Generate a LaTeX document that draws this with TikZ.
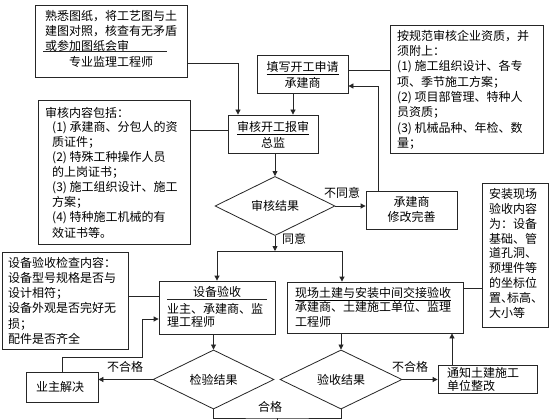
\documentclass[tikz,border=0pt]{standalone}
\usepackage{fontspec}
\setmainfont{Noto Sans CJK SC}
\newfontfamily\cjkhalt[RawFeature={+halt}]{Noto Sans CJK SC}
\usetikzlibrary{arrows.meta,shapes.geometric,calc}
\begin{document}
\begin{tikzpicture}[x=1pt,y=-1pt,
  frame/.style={draw=black!85,line width=0.8pt,rectangle,inner sep=0pt},
  dia/.style={draw=black!85,line width=0.8pt,diamond,inner sep=0pt,font=\fontsize{12}{14}\selectfont},
  txt/.style={inner sep=0pt,align=left,font=\fontsize{12}{15.2}\selectfont},
  lbl/.style={inner sep=0pt,font=\fontsize{12}{14}\selectfont},
  conn/.style={draw=black!85,line width=0.8pt},
  arr/.style={conn,-{Triangle[length=5pt,width=5pt]}}]
\fill[white] (0,0) rectangle (560,420);
\useasboundingbox (0,0) rectangle (560,420);

% boxes
\node[frame,minimum width=152pt,minimum height=72pt] (A) at (111,41) {};
\node[frame,minimum width=91pt,minimum height=38pt] (B) at (302.5,74) {};
\node[frame,minimum width=90pt,minimum height=38pt] (C) at (273,134) {};
\node[frame,minimum width=153pt,minimum height=128pt] (D) at (466.5,89) {};
\node[frame,minimum width=152pt,minimum height=144pt] (E) at (114,172) {};
\node[dia,minimum width=120pt,minimum height=45pt] (F) at (275,206) {审核结果};
\node[frame,minimum width=91pt,minimum height=38pt] (R) at (411.5,210) {};
\node[frame,minimum width=66pt,minimum height=144pt] (I) at (515,255) {};
\node[frame,minimum width=126pt,minimum height=97pt] (G) at (65,300.5) {};
\node[frame,minimum width=116pt,minimum height=53pt] (H) at (217,307.5) {};
\node[frame,minimum width=176pt,minimum height=51pt] (J) at (375,307.5) {};
\node[frame,minimum width=72pt,minimum height=30pt] (K) at (62,387) {};
\node[dia,minimum width=121pt,minimum height=45pt] (L) at (213.5,379.5) {检验结果};
\node[dia,minimum width=122pt,minimum height=45pt] (M) at (341,379.5) {验收结果};
\node[frame,minimum width=99pt,minimum height=28pt] (N) at (487.5,379) {};

% texts
\node[txt,anchor=north west] (Atx) at (45,10) {熟悉图纸，将工艺图与土\\建图对照，核查有无矛盾\\或参加图纸会审};
\draw[conn,line width=0.6pt] (43,51) -- (167,51);
\node[lbl] (Atx2) at (111,62) {专业监理工程师};
\node[lbl] (Btx1) at (302.5,68) {\underline{填写开工申请}};
\node[lbl] (Btx2) at (302.5,83) {承建商};
\node[lbl] (Ctx1) at (273,128) {\underline{审核开工报审}};
\node[lbl] (Ctx2) at (273,143) {总监};
\node[txt,anchor=north west,font=\fontsize{12}{15.3}\selectfont] (Dtx) at (397,30) {按规范审核企业资质，并\\须附上：\\(1) 施工组织设计、各专\\项、季节施工方案；\\(2) 项目部管理、特种人\\员资质；\\(3) 机械品种、年检、数\\量；};
\node[txt,anchor=north west] (Etx1) at (45,107) {审核内容包括：};
\node[txt,anchor=north west,font=\fontsize{12}{15.1}\selectfont] (Etx2) at (52,121) {(1) 承建商、分包人的资\\质证件；\\(2) 特殊工种操作人员\\的上岗证书；\\(3) 施工组织设计、施工\\方案；\\(4) 特种施工机械的有\\效证书等。};
\node[lbl] (Rtx1) at (411.5,202) {承建商};
\node[lbl] (Rtx2) at (411.5,217) {修改完善};
\node[txt,anchor=north west,font=\fontsize{12}{14.9}\selectfont] (Itx) at (489,188) {安装现场\\验收内容\\为：设备\\基础、管\\道孔洞、\\预埋件等\\的坐标位\\{\cjkhalt 置、标高、}\\大小等};
\node[txt,anchor=north west] (Gtx) at (8,257) {设备验收检查内容：\\设备型号规格是否与\\设计相符；\\设备外观是否完好无\\损；\\配件是否齐全};
\node[lbl] (Htx1) at (217,292) {设备验收};
\draw[conn,line width=0.6pt] (167,299) -- (267,299);
\node[txt,anchor=north west,font=\fontsize{12}{13}\selectfont] (Htx2) at (167,303) {业主、承建商、监\\理工程师};
\node[txt,anchor=north west,font=\fontsize{12}{14.5}\selectfont] (Jtx) at (295,287) {\underline{现场土建与安装中间交接验收}\\承建商、土建施工单位、监理\\工程师};
\node[lbl] (Ktx) at (60,387) {业主解决};
\node[txt,anchor=north west,font=\fontsize{12}{13}\selectfont] (Ntx) at (447,367) {通知土建施工\\单位整改};

% connectors
\draw[arr] ([yshift=-22pt]A.east) -| ([xshift=-35pt]C.north);
\draw[arr] ([xshift=-9.5pt]B.south) -- ([xshift=-9.5pt]B.south |- C.north);
\draw[conn] ([yshift=42pt]E.east) -- ([yshift=42pt]E.east -| C.west);
\draw[conn] ([yshift=4pt]B.east) -- ([yshift=4pt]B.east -| D.west);
\draw[arr] (F.north |- C.south) -- (F.north);
\draw[arr] (F.east) -- (F.east -| R.west);
\node[lbl] (nty) at (342,193) {不同意};
\draw[arr] ([xshift=-33.5pt]R.north) |- ([yshift=-12pt]B.east);
\coordinate (jn) at (275,251);
\draw[arr] (F.south) -- (jn);
\node[lbl,anchor=west] (ty) at (282,239) {同意};
\draw[arr] (jn) -| (H.north);
\draw[arr] (jn) -| ([xshift=-33pt]J.north);
\draw[conn] ([yshift=4.5pt]G.east) -- ([yshift=4.5pt]G.east -| H.west);
\draw[arr] (L.north |- H.south) -- (L.north);
\draw[arr] (L.west) -- (L.west -| K.east);
\node[lbl] (bhg1) at (125,367) {不合格};
\coordinate (kc) at (142,357);
\draw[arr] (K.north) |- (kc) |- ([yshift=-11.5pt]H.west);
\draw[conn] ([yshift=19.5pt]J.east) -- ([yshift=19.5pt]J.east -| I.west);
\draw[arr] (M.north |- J.south) -- (M.north);
\draw[arr] (M.east) -- (M.east -| N.west);
\node[lbl] (bhg2) at (410,367) {不合格};
\draw[arr] ([xshift=-35.5pt]N.north) -- ([xshift=-35.5pt]N.north |- J.south);
\coordinate (bc) at (277,418);
\coordinate (bend) at (277,421);
\draw[conn] (L.south) |- (bc) -| (M.south);
\draw[conn] (bc) -- (bend);
\node[lbl] (hg) at (270,407) {合格};
\end{tikzpicture}
\end{document}
